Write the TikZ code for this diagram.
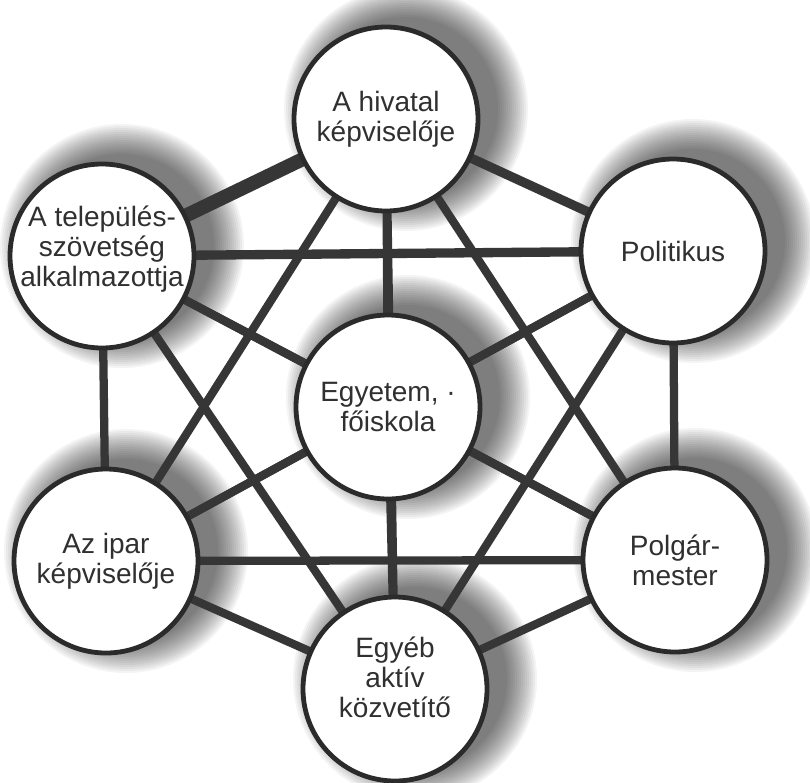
\documentclass[tikz,border=0pt]{standalone}
\usepackage{fontspec}
\setmainfont{Liberation Sans}
\usetikzlibrary{calc}
\definecolor{linecol}{HTML}{363636}
\definecolor{bordcol}{HTML}{2B2B2B}
\definecolor{txtcol}{HTML}{303030}
\pgfdeclarelayer{shadowlayer}
\pgfdeclarelayer{edgelayer}
\pgfsetlayers{shadowlayer,edgelayer,main}
\begin{document}
\begin{tikzpicture}[x=0.75pt,y=-0.75pt,
  circ/.style={circle,draw=bordcol,line width=3.6pt,fill=white,minimum size=138pt,inner sep=0pt},
  txt/.style={align=center,text=txtcol,font=\fontsize{21pt}{22.5pt}\selectfont,inner sep=0pt},
  edge/.style={draw=linecol,line width=6.2pt},
  medge/.style={draw=linecol,line width=7pt},
  thickedge/.style={draw=linecol,line width=10.5pt},
  shadowdisc/.style={fill=black,opacity=0.045}]
\useasboundingbox (0,0) rectangle (810,782);
% circles
\node[circ,txt] (top) at (386,119) {A hivatal\\képviselője};
\node[circ] (lt) at (102,256) {};
\node[txt] (ltt) at (102,249) {A település-\\szövetség\\alkalmazottja};
\node[circ,txt] (pol) at (673,251) {Politikus};
\node[circ,txt] (ctr) at (388,407) {Egyetem, ·\\főiskola};
\node[circ,txt] (ipar) at (106,561) {Az ipar\\képviselője};
\node[circ,txt] (polg) at (675,560) {Polgár-\\mester};
\node[circ] (egyeb) at (395,689) {};
\node[txt] (egyebt) at (395,677) {Egyéb\\aktív\\közvetítő};
% shadows
\begin{pgfonlayer}{shadowlayer}
\foreach \n in {top,lt,pol,ctr,ipar,polg,egyeb}{
  \foreach \k in {0,...,15}{
    \fill[shadowdisc] ($(\n.center)+(20,-10)$) circle[radius={(122-2*\k)*0.75pt}];
  }
}
\end{pgfonlayer}
% connectors
\begin{pgfonlayer}{edgelayer}
\draw[thickedge] (top.center) -- (lt.center);
\draw[medge] (top.center) -- (pol.center);
\draw[medge] (lt.center) -- (pol.center);
\foreach \a/\b in {top/ctr,top/ipar,top/polg,top/egyeb,
                   lt/ctr,lt/ipar,lt/polg,lt/egyeb,
                   pol/ctr,pol/ipar,pol/polg,pol/egyeb,
                   ctr/ipar,ctr/polg,ctr/egyeb,
                   ipar/polg,ipar/egyeb,polg/egyeb}{
  \draw[edge] (\a.center) -- (\b.center);
}
\end{pgfonlayer}
\end{tikzpicture}
\end{document}
